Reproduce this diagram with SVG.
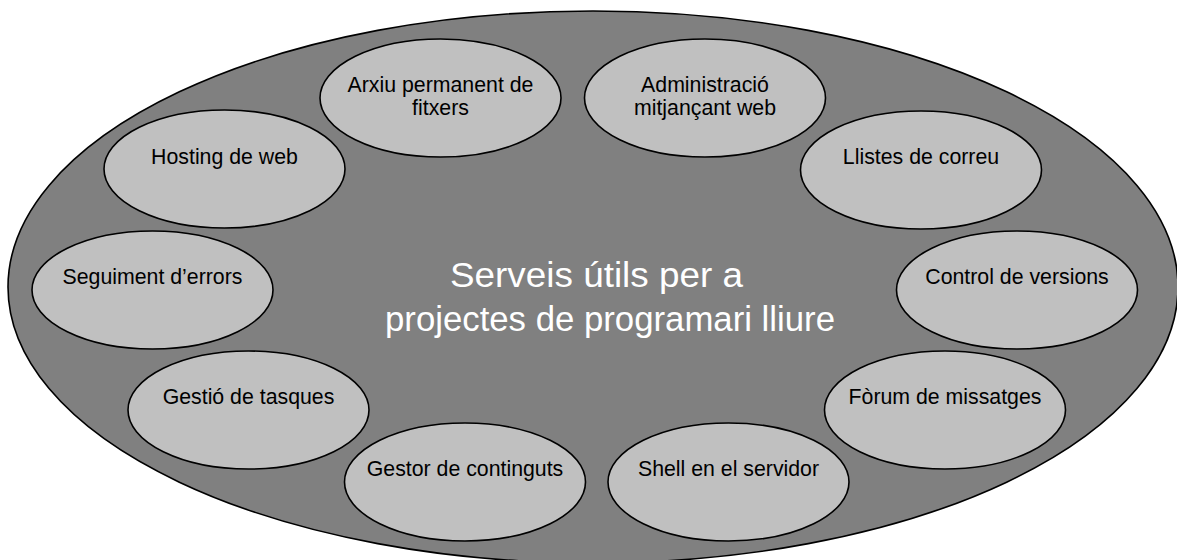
<svg xmlns="http://www.w3.org/2000/svg" width="1177" height="560" viewBox="0 0 1177 560">
<style>
.big{fill:#808080;stroke:#000;stroke-width:1.6}
.node{fill:#c0c0c0;stroke:#000;stroke-width:1.6}
.lbl{font-family:"Liberation Sans",Arial,sans-serif;font-size:21.3px;fill:#000;text-anchor:middle}
.title{font-family:"Liberation Sans",Arial,sans-serif;font-size:34.7px;fill:#fff}
</style>
<rect width="1177" height="560" fill="#fff"/>
<g id="main">
<ellipse class="big" cx="593" cy="287" rx="585" ry="276"/>
<text class="title" x="450" y="287" textLength="293" lengthAdjust="spacingAndGlyphs">Serveis útils per a</text>
<text class="title" x="385" y="331" textLength="450" lengthAdjust="spacingAndGlyphs">projectes de programari lliure</text>
</g>
<g id="connectors"></g>
<g id="arxiu"><ellipse class="node" cx="440.5" cy="98" rx="120.5" ry="59"/><text class="lbl" x="440.5" y="92">Arxiu permanent de</text><text class="lbl" x="440.5" y="115">fitxers</text></g>
<g id="admin"><ellipse class="node" cx="705" cy="98" rx="120.5" ry="59"/><text class="lbl" x="705" y="92">Administració</text><text class="lbl" x="705" y="115">mitjançant web</text></g>
<g id="hosting"><ellipse class="node" cx="224.5" cy="169" rx="120.5" ry="59"/><text class="lbl" x="224.5" y="164">Hosting de web</text></g>
<g id="llistes"><ellipse class="node" cx="921" cy="170" rx="120.5" ry="59"/><text class="lbl" x="921" y="164">Llistes de correu</text></g>
<g id="seguiment"><ellipse class="node" cx="152.5" cy="290" rx="120.5" ry="59"/><text class="lbl" x="152.5" y="284">Seguiment d’errors</text></g>
<g id="control"><ellipse class="node" cx="1017" cy="290" rx="120.5" ry="59"/><text class="lbl" x="1017" y="284">Control de versions</text></g>
<g id="gestio"><ellipse class="node" cx="248.5" cy="410" rx="120.5" ry="59"/><text class="lbl" x="248.5" y="404">Gestió de tasques</text></g>
<g id="forum"><ellipse class="node" cx="945" cy="410" rx="120.5" ry="59"/><text class="lbl" x="945" y="404">Fòrum de missatges</text></g>
<g id="gestor"><ellipse class="node" cx="465" cy="482" rx="120.5" ry="59"/><text class="lbl" x="465" y="476">Gestor de continguts</text></g>
<g id="shell"><ellipse class="node" cx="728.5" cy="482" rx="120.5" ry="59"/><text class="lbl" x="728.5" y="476">Shell en el servidor</text></g>
</svg>
